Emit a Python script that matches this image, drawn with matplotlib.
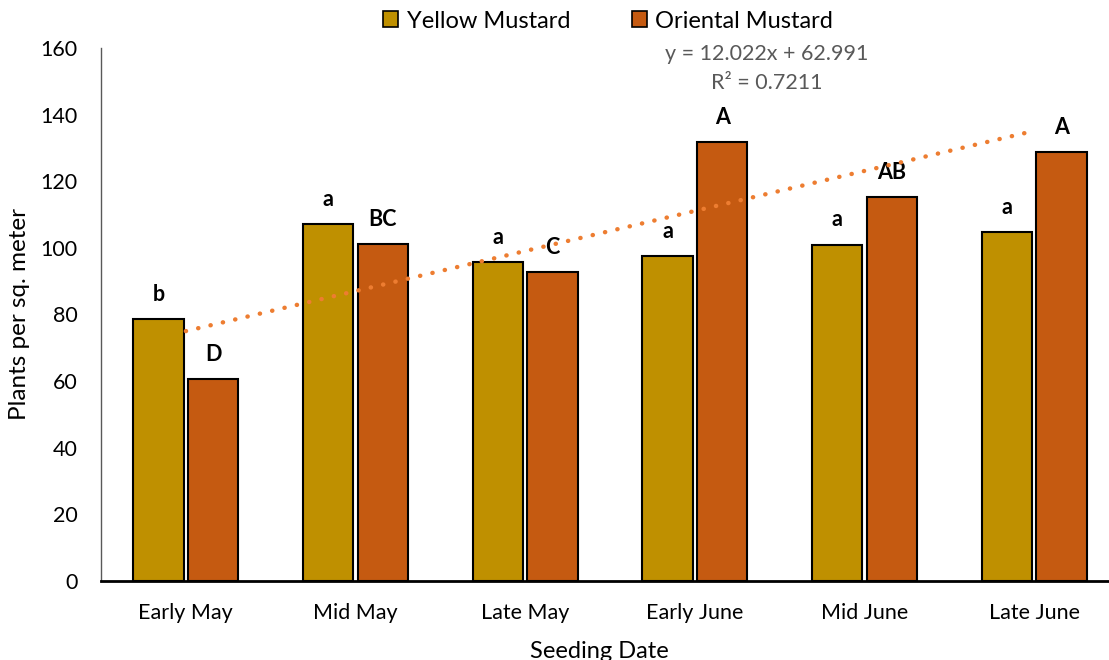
import matplotlib
matplotlib.use("Agg")
import matplotlib.pyplot as plt
from matplotlib.patches import Patch
import numpy as np

categories = ["Early May", "Mid May", "Late May", "Early June", "Mid June", "Late June"]
yellow = [78.7, 107.3, 95.7, 97.5, 101.0, 104.8]
oriental = [60.6, 101.2, 92.8, 131.9, 115.2, 128.8]
yellow_letters = ["b", "a", "a", "a", "a", "a"]
oriental_letters = ["D", "BC", "C", "A", "AB", "A"]
trend_slope = 12.022
trend_intercept = 62.991
trend_r2 = 0.7211
yticks = [0, 20, 40, 60, 80, 100, 120, 140, 160]

plt.rcParams['font.family'] = ['Lato', 'DejaVu Sans']

fig = plt.figure(figsize=(11.09, 6.60), dpi=100)
ax = fig.add_axes([101/1109, 79/660, 1018/1109, 533/660])

x = np.arange(len(categories))
bw = 0.295
off = 0.161
c_y = "#BF9000"
c_o = "#C55A11"
ax.bar(x - off, yellow, bw, color=c_y, edgecolor="black", linewidth=1.5, zorder=2)
ax.bar(x + off, oriental, bw, color=c_o, edgecolor="black", linewidth=1.5, zorder=2)

for xi, v, t in zip(x - off, yellow, yellow_letters):
    ax.annotate(t, (xi, v), xytext=(0, 13), textcoords="offset points",
                ha="center", va="baseline", fontsize=15.5, fontweight="bold", color="black")
for xi, v, t in zip(x + off, oriental, oriental_letters):
    ax.annotate(t, (xi, v), xytext=(0, 13), textcoords="offset points",
                ha="center", va="baseline", fontsize=15.5, fontweight="bold", color="black")

# Linear trendline (Excel x = 1..6)
xt = np.array([1, len(categories)])
yt = trend_slope * xt + trend_intercept
ax.plot(xt - 1, yt, color="#ED7D31", linewidth=3.2, linestyle=(0, (0.05, 2.8)),
        dash_capstyle="round", zorder=3)

ax.set_xlim(-0.5, len(categories) - 0.5)
ax.set_ylim(0, 160)
ax.set_yticks(yticks)
ax.set_xticks(x)
ax.set_xticklabels(categories)
ax.tick_params(axis="y", length=0, pad=17, labelsize=15.5, colors="black")
ax.tick_params(axis="x", length=0, pad=16, labelsize=15.5, colors="black")
for s in ["top", "right"]:
    ax.spines[s].set_visible(False)
ax.spines["left"].set_color("#595959")
ax.spines["left"].set_linewidth(1.0)
ax.spines["bottom"].set_color("black")
ax.spines["bottom"].set_linewidth(2.0)

ax.set_ylabel("Plants per sq. meter", fontsize=17.5)
ax.yaxis.set_label_coords(-71/1018, 0.5)
fig.text(599/1109, 1 - 651/660, "Seeding Date", ha="center", va="center", fontsize=17)

fig.text(767/1109, 1 - 54/660, f"y = {trend_slope}x + {trend_intercept}", ha="center", va="center",
         fontsize=15.5, color="#595959")
fig.text(767/1109, 1 - 83/660, f"R² = {trend_r2}", ha="center", va="center",
         fontsize=15.5, color="#595959")

handles = [Patch(facecolor=c_y, edgecolor="black", linewidth=1.2, label="Yellow Mustard"),
           Patch(facecolor=c_o, edgecolor="black", linewidth=1.2, label="Oriental Mustard")]
fig.legend(handles=handles, loc="center", bbox_to_anchor=(608/1109, 1 - 21/660), ncol=2,
           frameon=False, fontsize=17, handlelength=0.65, handleheight=0.65,
           handletextpad=0.35, columnspacing=2.6, borderpad=0)

fig.savefig("out.png", dpi=100)
